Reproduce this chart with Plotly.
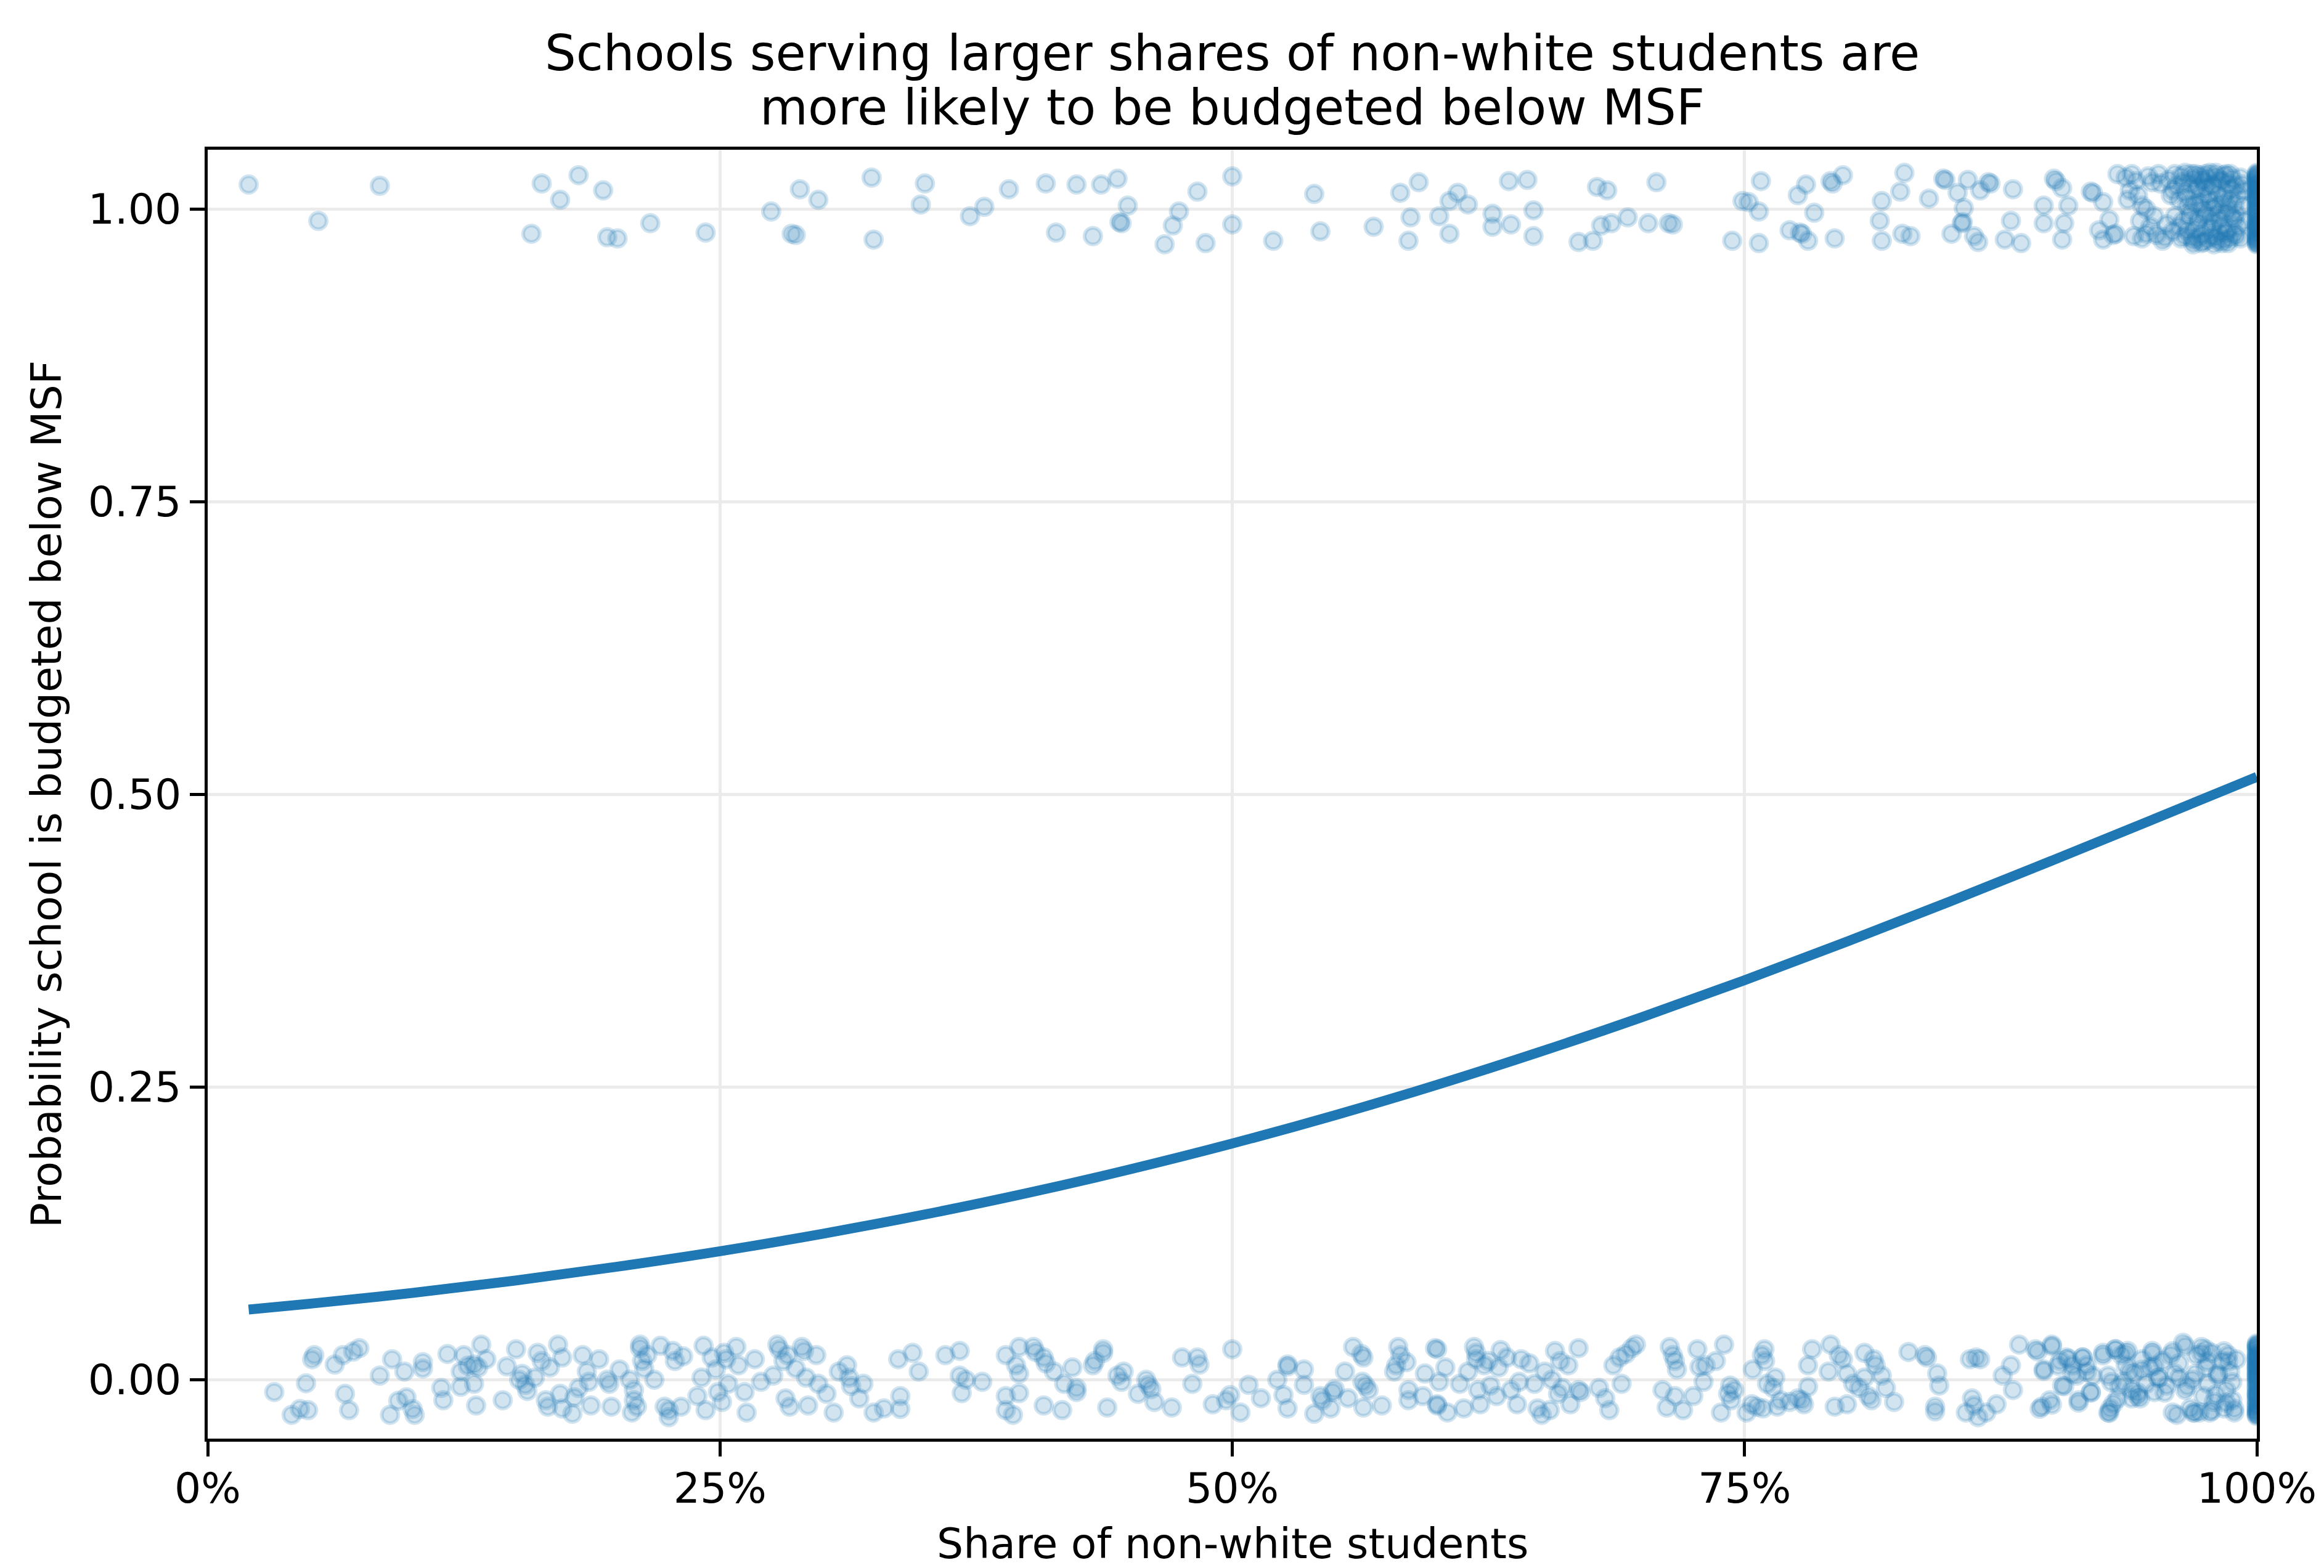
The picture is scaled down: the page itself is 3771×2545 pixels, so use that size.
import plotly.graph_objects as go

# Schools budgeted below MSF (outcome 1), jittered around 1: (share non-white %, jittered value)
high_points = [
    (2.0, 1.021), (5.4, 0.990), (8.4, 1.020), (16.3, 1.022), (15.8, 0.979), (18.1, 1.029),
    (17.2, 1.008), (19.3, 1.016), (19.5, 0.976), (20.0, 0.975), (21.6, 0.988), (24.3, 0.980),
    (27.5, 0.998), (28.9, 1.017), (29.8, 1.008), (28.5, 0.979), (28.7, 0.978), (32.4, 1.027),
    (32.5, 0.974), (35.0, 1.022), (34.8, 1.004), (37.2, 0.994), (37.9, 1.002),
    (39.1, 1.017), (40.9, 1.022), (41.4, 0.980), (42.4, 1.021), (43.2, 0.977), (43.6, 1.021),
    (44.4, 1.026), (44.9, 1.003), (44.6, 0.988), (44.5, 0.989), (47.4, 0.998), (47.1, 0.986),
    (46.7, 0.970), (48.3, 1.015), (48.7, 0.971), (50.0, 1.028), (50.0, 0.987), (52.0, 0.973),
    (54.0, 1.013), (54.3, 0.981), (56.9, 0.985), (58.2, 1.014), (59.1, 1.023), (58.7, 0.993),
    (58.6, 0.973), (60.1, 0.994), (60.6, 0.979), (60.6, 1.007), (61.0, 1.014), (61.5, 1.004),
    (62.7, 0.996), (62.7, 0.985), (63.6, 0.987), (63.5, 1.024), (64.4, 1.025), (64.7, 0.999),
    (64.7, 0.977), (66.9, 0.972), (67.6, 0.973), (68.0, 0.986), (68.5, 0.988), (67.8, 1.019),
    (68.3, 1.016), (69.3, 0.993), (70.3, 0.988), (70.7, 1.023), (71.3, 0.988), (71.5, 0.987),
    (74.4, 0.973), (74.9, 1.007), (75.2, 1.006), (75.7, 0.998), (75.8, 1.024), (75.7, 0.971),
    (77.2, 0.982), (77.6, 1.012), (78.0, 1.021), (78.4, 0.997), (77.7, 0.980), (78.1, 0.973),
    (77.8, 0.979), (79.2, 1.024), (79.3, 1.022), (79.8, 1.029), (79.4, 0.975), (81.7, 1.007),
    (82.6, 1.015), (82.8, 1.031), (81.6, 0.990), (81.7, 0.973), (82.7, 0.979), (83.1, 0.977),
    (84.0, 1.009), (84.7, 1.026), (84.8, 1.025), (85.4, 1.014), (85.7, 1.001), (85.6, 0.988),
    (85.65, 0.989), (85.9, 1.025), (85.1, 0.979), (86.2, 0.977), (86.4, 0.972), (86.5, 1.016),
    (86.9, 1.023), (87.0, 1.022), (88.1, 1.017), (88.0, 0.990), (87.7, 0.974), (88.5, 0.971),
    (89.6, 1.003), (89.6, 0.988), (90.1, 1.026), (90.2, 1.024), (90.5, 1.018), (90.8, 1.003),
    (90.6, 0.988), (90.5, 0.974), (91.9, 1.015), (92.0, 1.014), (92.5, 1.006), (92.8, 0.991),
    (92.3, 0.982), (93.1, 0.979), (93.0, 0.978), (92.5, 0.974), (93.2, 1.030),
    (93.6, 1.027), (93.9, 1.030), (94.1, 1.024), (93.7, 1.008), (93.8, 1.016), (94.2, 1.012),
    (94.4, 1.003), (94.0, 0.977), (94.4, 0.975), (94.6, 0.979), (94.7, 1.028), (94.9, 1.023),
    (94.6, 1.000), (95.0, 0.994), (95.2, 1.030), (95.4, 0.973), (95.6, 0.987), (95.8, 1.012),
    (95.9, 1.016), (96.0, 1.030), (96.2, 0.985), (96.4, 1.023), (96.5, 0.977), (96.6, 1.003),
    (96.7, 0.994), (96.8, 1.030), (96.9, 0.973), (97.0, 1.016), (97.1, 0.989), (97.2, 1.005),
    (97.3, 1.026), (97.4, 0.972), (97.5, 0.996), (97.6, 1.012), (97.7, 1.031), (97.8, 0.984),
    (97.9, 1.021), (98.0, 1.003), (98.1, 0.973), (98.2, 0.991), (98.3, 1.024), (98.4, 1.009),
    (98.5, 0.980), (98.6, 1.000), (98.7, 1.030), (98.8, 1.017), (98.9, 0.991), (99.0, 0.977),
    (99.1, 1.012), (99.3, 1.021), (94.3, 0.990), (94.8, 0.985), (95.1, 0.978), (95.3, 1.022),
    (95.5, 0.976), (95.7, 1.025), (95.9, 0.981), (96.0, 0.994), (96.1, 1.020), (96.2, 1.008),
    (96.3, 0.975), (96.3, 1.028), (96.4, 0.990), (96.5, 1.014), (96.6, 0.982), (96.7, 1.022),
    (96.7, 1.009), (96.8, 0.976), (96.8, 0.998), (96.9, 1.026), (97.0, 0.983), (97.0, 1.004),
    (97.1, 1.019), (97.1, 0.975), (97.2, 1.029), (97.2, 0.992), (97.3, 1.011), (97.3, 0.978),
    (97.4, 1.024), (97.4, 1.000), (97.5, 0.985), (97.5, 1.018), (97.6, 0.974), (97.6, 1.027),
    (97.7, 0.993), (97.7, 1.007), (97.8, 1.020), (97.8, 0.977), (97.9, 1.001), (97.9, 0.988),
    (98.0, 1.028), (98.0, 0.976), (98.1, 1.013), (98.1, 0.996), (98.2, 1.025), (98.2, 0.980),
    (98.3, 1.005), (98.3, 0.986), (98.4, 1.029), (98.4, 0.974), (98.5, 1.015), (98.5, 0.997),
    (98.6, 1.022), (98.6, 0.983), (98.7, 1.008), (98.7, 0.975), (98.8, 0.993), (98.8, 1.026),
    (98.9, 1.004), (98.9, 0.979), (99.0, 1.020), (99.0, 0.996), (99.1, 0.985), (99.2, 1.027),
    (99.2, 0.975), (99.3, 1.003), (99.4, 0.990), (99.4, 1.016), (97.0, 1.030), (97.5, 1.030),
    (98.0, 1.031), (96.5, 1.031), (98.5, 1.030), (96.9, 0.970), (97.3, 0.971), (97.9, 0.970),
    (98.3, 0.971), (98.6, 0.971),
]

# Schools at 100% non-white share budgeted below MSF (jittered values)
high_full_share = [
    0.971, 1.026, 0.984, 1.012, 0.993, 1.030, 0.977, 1.005, 1.019, 0.988,
    0.970, 1.023, 0.999, 1.014, 0.981, 1.008, 0.974, 1.028, 0.991, 1.002,
    1.017, 0.986, 0.979, 1.021, 0.996, 1.010, 0.973, 1.029, 0.983, 1.006,
    1.015, 0.990, 0.976, 1.025, 1.000, 1.011, 0.987, 0.972, 1.020, 0.994,
    1.003, 1.027, 0.980, 1.016, 0.985, 1.009, 0.975, 1.022, 0.997, 1.031,
]

# Schools not budgeted below MSF (outcome 0), jittered around 0
low_points = [
    (3.25, -0.0105), (4.1, -0.030), (4.5, -0.025), (4.9, -0.026), (4.8, -0.003), (5.1, 0.0175),
    (5.2, 0.021), (6.2, 0.013), (6.6, 0.021), (7.1, 0.024), (7.4, 0.027), (6.7, -0.012),
    (6.9, -0.026), (8.4, 0.0035), (9.0, 0.0175), (9.6, 0.007), (8.9, -0.030), (9.3, -0.018),
    (9.7, -0.015), (10.0, -0.025), (10.1, -0.030), (10.5, 0.015), (10.5, 0.0096), (11.4, -0.007),
    (11.5, -0.0175), (11.7, 0.022), (12.35, 0.007), (12.5, 0.021), (12.7, 0.012), (13.0, 0.013),
    (13.2, 0.0105), (13.35, 0.030), (12.35, -0.006), (13.1, -0.022), (13.0, -0.0035), (13.6, 0.0175),
    (14.4, -0.0175), (14.6, 0.0114), (15.05, 0.026), (15.35, 0.005), (15.2, 0.0), (15.5, -0.0044),
    (15.6, -0.0096), (16.1, 0.023), (15.97, 0.0018), (16.3, 0.016), (16.5, -0.0175), (16.6, -0.023),
    (16.7, 0.0105), (17.1, 0.030), (17.3, 0.019), (17.2, -0.012), (17.3, -0.0245), (17.8, -0.029),
    (17.9, -0.015), (18.1, -0.007), (18.3, 0.021), (18.5, 0.007), (18.6, -0.0018), (18.7, -0.022),
    (19.1, 0.0175), (19.5, 0.0), (19.6, -0.0035), (19.7, -0.023), (20.1, 0.0088), (20.6, 0.0),
    (20.7, -0.028), (20.8, -0.0088), (20.8, -0.0175), (20.95, -0.023), (21.1, 0.027), (21.1, 0.030),
    (21.2, 0.016), (21.3, 0.0096), (21.45, 0.021), (21.8, 0.0), (22.1, 0.029), (22.3, -0.023),
    (22.5, -0.026), (22.5, -0.032), (22.7, 0.0246), (22.8, 0.016), (23.1, -0.023), (23.2, 0.020),
    (23.9, -0.014), (24.1, 0.0018), (24.2, 0.029), (24.3, -0.026), (24.6, 0.019), (24.8, 0.0088),
    (24.9, -0.0105), (25.1, -0.019), (25.2, 0.023), (25.3, 0.0175), (25.4, -0.0035), (25.8, 0.028),
    (25.9, 0.0123), (26.3, -0.028), (26.2, -0.0105), (26.7, 0.0175), (27.0, -0.0018), (27.6, 0.0035),
    (27.8, 0.030), (27.9, 0.026), (28.1, 0.016), (28.3, 0.021), (28.2, -0.016), (28.4, -0.023),
    (28.7, 0.0096), (29.0, 0.028), (29.1, 0.0246), (29.2, 0.0018), (29.3, -0.022), (29.7, 0.021),
    (29.8, -0.0035), (30.2, -0.012), (30.55, -0.028), (30.8, 0.007), (31.2, 0.0123), (31.3, 0.0018),
    (31.4, -0.0053), (31.8, -0.016), (32.0, -0.0035), (32.5, -0.028), (33.0, -0.0245), (33.7, 0.0175),
    (33.8, -0.014), (33.8, -0.025), (34.4, 0.023), (34.7, 0.007), (36.0, 0.021), (36.7, 0.0246),
    (36.7, 0.0035), (36.8, -0.0114), (37.0, 0.0), (37.8, -0.0018),
    (38.95, 0.021), (39.6, 0.028), (39.45, 0.0123), (39.6, 0.0053), (38.95, -0.014), (39.6, -0.0114),
    (38.95, -0.026), (39.3, -0.030), (40.3, 0.028), (40.4, 0.0237), (40.8, 0.019), (40.9, 0.014),
    (41.3, 0.007), (40.8, -0.022), (41.7, -0.026), (41.8, -0.0035), (42.2, 0.0105), (42.4, -0.007),
    (42.4, -0.0105), (43.2, 0.0123), (43.3, 0.016), (43.7, 0.026), (43.7, 0.023), (43.9, -0.0237),
    (44.4, 0.0035), (44.6, -0.0018), (44.7, 0.007), (45.4, -0.012), (45.8, 0.0), (45.9, -0.0044),
    (46.05, -0.008), (46.2, -0.019), (47.05, -0.0237), (47.55, 0.019), (48.05, -0.0035), (48.3, 0.019),
    (48.4, 0.013), (49.05, -0.021), (49.7, -0.0175), (49.9, -0.013), (50.0, 0.026), (50.4, -0.028),
    (50.8, -0.0044), (51.4, -0.0158), (52.2, 0.0), (52.7, 0.013), (52.7, 0.0114), (52.5, -0.013),
    (52.7, -0.0245), (53.5, 0.0088), (53.5, -0.0044), (54.0, -0.029), (54.3, -0.014), (54.4, -0.0175),
    (54.8, -0.0245), (54.9, -0.0105), (55.0, -0.008), (55.5, 0.007), (55.65, -0.0158), (55.9, 0.028),
    (56.3, 0.022), (56.4, 0.019), (56.35, -0.0018), (56.5, -0.005), (56.4, -0.0237), (56.65, -0.0088),
    (57.3, -0.022), (57.9, 0.007), (58.0, 0.0123), (58.1, 0.028), (58.2, 0.021), (58.5, 0.015),
    (58.6, -0.0088), (58.6, -0.0175), (59.3, -0.014), (59.4, 0.0053), (59.9, 0.027), (60.0, 0.026),
    (60.0, -0.021), (60.0, -0.022), (60.1, -0.0018), (60.4, 0.0105), (60.5, -0.028), (61.1, -0.0035),
    (61.3, -0.0245), (61.5, 0.007), (61.8, 0.028), (61.9, 0.023), (61.9, 0.0175), (62.0, -0.0088),
    (62.1, -0.021), (62.3, 0.0123), (62.5, 0.016), (62.6, -0.005), (62.9, -0.014), (63.0, 0.0105),
    (63.1, 0.0254), (63.4, 0.019), (63.6, -0.0088), (63.9, -0.021), (64.0, -0.0018), (64.1, 0.0175),
    (64.5, 0.014), (64.75, -0.0035), (64.9, -0.0245), (65.1, -0.030), (65.25, 0.007), (65.5, -0.026),
    (65.6, 0.0), (65.75, 0.0246), (65.9, -0.012), (66.0, 0.016), (66.1, -0.007), (66.4, 0.0123),
    (66.5, -0.021), (66.9, 0.027), (66.9, -0.0088), (67.0, -0.0105), (67.9, -0.007), (68.2, -0.0158),
    (68.4, -0.026), (68.6, 0.0123), (68.9, 0.019), (69.0, -0.0035), (69.2, 0.022), (69.5, 0.027),
    (69.7, 0.030), (71.0, -0.0088), (71.2, -0.0237), (71.35, 0.028), (71.5, 0.021), (71.6, 0.016),
    (71.7, 0.0088), (72.0, -0.026), (72.5, -0.014), (72.7, 0.026), (73.0, -0.0018), (73.1, 0.0123),
    (74.0, 0.030), (73.85, -0.028), (74.2, -0.012), (74.35, -0.0175), (74.5, -0.0088), (75.1, -0.028),
    (75.35, -0.021), (75.97, 0.026), (75.85, 0.021), (76.0, 0.016), (76.1, -0.0035), (76.5, 0.0018),
    (74.3, -0.005), (75.4, 0.0088), (75.6, -0.023), (75.9, -0.0245), (76.4, -0.007), (72.8, 0.011),
    (71.6, -0.014), (73.6, 0.016),
    (76.75, -0.0175), (76.6, -0.023), (77.2, -0.019), (77.6, -0.016), (77.8, -0.0175), (77.9, -0.021),
    (78.1, -0.006), (78.1, 0.0123), (78.3, 0.026), (79.2, 0.030), (79.1, 0.007), (79.4, -0.023),
    (79.6, 0.021), (79.8, 0.0175), (80.0, -0.021), (80.0, 0.0053), (80.3, -0.0035), (80.6, -0.007),
    (80.85, 0.023), (80.85, 0.0018), (81.05, -0.014), (81.2, -0.0175), (81.3, 0.0175), (81.4, 0.0123),
    (81.7, 0.0035), (81.9, -0.007), (82.3, -0.019), (83.0, 0.0237), (83.8, 0.021), (83.9, 0.019),
    (84.4, 0.0053), (84.5, -0.005), (84.3, -0.023), (84.3, -0.027), (85.8, -0.028), (86.0, 0.0175),
    (86.3, 0.019), (86.5, 0.0175), (86.1, -0.016), (86.2, -0.022), (86.4, -0.032), (86.8, -0.028),
    (87.3, -0.021), (87.6, 0.0035), (88.0, 0.0123), (88.1, -0.0088), (88.4, 0.030),
    (89.2, 0.026), (89.6, 0.0088), (89.5, -0.023), (89.9, -0.0175), (90.0, 0.030), (90.4, 0.016),
    (90.5, -0.005), (90.7, 0.019), (91.0, 0.0123), (91.2, 0.0035), (91.3, -0.0175), (91.5, 0.019),
    (91.7, 0.0123), (91.9, -0.0105), (92.5, 0.023), (92.75, 0.0035), (92.85, -0.0245), (92.75, -0.028),
    (93.1, 0.026), (93.2, -0.016), (93.4, 0.021), (93.5, -0.0018), (93.6, 0.0123), (93.7, 0.0246),
    (93.9, -0.0088), (94.0, 0.0053), (94.2, -0.014), (94.4, 0.0175), (94.6, -0.0035), (94.8, 0.0105),
    (94.9, 0.0246), (95.0, -0.0105), (95.2, 0.0018), (95.4, 0.016), (95.6, -0.005), (95.8, 0.021),
    (95.9, -0.028), (96.0, 0.0053), (96.2, 0.014), (96.4, 0.0316), (96.5, -0.0088), (96.75, -0.0245),
    (96.85, 0.0), (96.96, -0.028), (97.06, 0.021), (97.3, 0.028), (97.4, -0.014), (97.5, 0.0105),
    (97.6, -0.0035), (97.7, -0.028), (97.8, 0.023), (97.9, -0.019), (98.1, 0.0035), (98.3, 0.016),
    (98.4, -0.0245), (98.5, -0.0088), (98.6, 0.021), (98.7, 0.007), (98.8, -0.0175), (98.9, -0.028),
    (89.3, 0.0243), (90.0, 0.0287), (89.6, 0.0076), (89.4, -0.0248), (90.0, -0.0213), (90.3, 0.012),
    (90.6, -0.0055), (90.8, 0.018), (91.0, 0.005), (91.3, -0.0196), (91.5, 0.019), (91.7, 0.0068),
    (91.9, -0.011), (92.0, 0.0032), (92.5, 0.0208), (92.9, -0.002), (92.8, -0.0283), (93.0, -0.0204),
    (93.1, 0.026), (93.3, -0.0055), (93.6, 0.0226), (93.8, 0.0068), (93.9, -0.016), (94.2, -0.011),
    (94.3, -0.016), (94.4, 0.0085), (94.9, 0.0226), (95.0, 0.012), (95.2, 0.0015), (95.5, -0.011),
    (95.9, 0.0243), (96.1, -0.030), (96.2, 0.0015), (96.5, 0.0287), (96.6, -0.0055), (96.9, -0.028),
    (97.0, 0.005), (97.2, -0.028), (97.3, 0.0226), (97.5, 0.026), (97.6, 0.0155), (97.8, -0.0265),
    (98.0, -0.0125), (98.1, 0.005), (98.4, 0.0243), (98.5, -0.0196), (98.6, 0.0155), (98.8, -0.002),
    (98.9, -0.0248), (99.0, 0.0173),
]

# Schools at 100% non-white share not budgeted below MSF (jittered values)
low_full_share = [
    -0.029, 0.024, -0.012, 0.008, 0.030, -0.021, 0.003, -0.006, 0.017, -0.026,
    0.011, -0.002, 0.027, -0.017, 0.005, -0.030, 0.020, -0.009, 0.014, -0.023,
    0.001, 0.029, -0.014, 0.009, -0.027, 0.022, -0.004, 0.016, -0.019, 0.006,
    0.031, -0.011, 0.012, -0.025, 0.019, -0.001, 0.026, -0.016, 0.004, -0.031,
    0.021, -0.007, 0.013, -0.022, 0.028, -0.013, 0.002, 0.018, -0.028, 0.010,
]

# Fitted probability curve
curve_share = [2, 5, 10, 15, 20, 25, 30, 35, 40, 45, 50, 55, 60, 65, 70, 75, 80, 85, 90, 95, 100]
curve_prob = [0.0600, 0.0650, 0.0742, 0.0847, 0.0966, 0.1098, 0.1247, 0.1412, 0.1595, 0.1797,
              0.2018, 0.2259, 0.2520, 0.2800, 0.3098, 0.3413, 0.3743, 0.4084, 0.4435, 0.4791, 0.5150]

x_ticks = [0, 25, 50, 75, 100]
x_tick_labels = ["0%", "25%", "50%", "75%", "100%"]
y_ticks = [0, 0.25, 0.5, 0.75, 1.0]
y_tick_labels = ["0.00", "0.25", "0.50", "0.75", "1.00"]

BLUE = "#1f77b4"
DOT = "rgba(31,119,180,0.2)"
FONT = "DejaVu Sans"

high_x = [p[0] for p in high_points] + [100.0] * len(high_full_share)
high_y = [p[1] for p in high_points] + high_full_share
low_x = [p[0] for p in low_points] + [100.0] * len(low_full_share)
low_y = [p[1] for p in low_points] + low_full_share

marker_style = dict(symbol="circle", size=27, color=DOT, line=dict(width=6, color=DOT))

fig = go.Figure()
for xs, ys in ((low_x, low_y), (high_x, high_y)):
    fig.add_trace(go.Scatter(x=xs, y=ys, mode="markers", marker=marker_style,
                             cliponaxis=True, showlegend=False, hoverinfo="skip"))

fig.add_trace(go.Scatter(x=curve_share, y=curve_prob, mode="lines",
                         line=dict(color=BLUE, width=16, shape="spline"),
                         showlegend=False, hoverinfo="skip"))

axis_common = dict(
    ticks="outside", ticklen=24, tickwidth=5.4, tickcolor="black",
    showline=True, linecolor="black", linewidth=5.4, mirror=True,
    showgrid=True, gridcolor="#ebebeb", gridwidth=5, zeroline=False,
    tickfont=dict(family=FONT, size=68, color="black"),
)

fig.update_layout(
    width=3771, height=2545,
    margin=dict(l=337, r=106, t=243, b=210),
    plot_bgcolor="white", paper_bgcolor="white",
    font=dict(family=FONT, color="black"),
    xaxis=dict(range=[0, 100], tickvals=x_ticks, ticktext=x_tick_labels,
               ticklabelstandoff=-7, **axis_common),
    yaxis=dict(range=[-0.0503, 1.0508], tickvals=y_ticks, ticktext=y_tick_labels, **axis_common),
    annotations=[
        dict(text="Schools serving larger shares of non-white students are", xref="paper", yref="paper",
             x=0.5, y=1, yshift=157, xanchor="center", yanchor="middle", showarrow=False,
             font=dict(family=FONT, size=80, color="black")),
        dict(text="more likely to be budgeted below MSF", xref="paper", yref="paper",
             x=0.5, y=1, yshift=69, xanchor="center", yanchor="middle", showarrow=False,
             font=dict(family=FONT, size=80, color="black")),
        dict(text="Share of non-white students", xref="paper", yref="paper",
             x=0.5, y=0, yshift=-170, xanchor="center", yanchor="middle", showarrow=False,
             font=dict(family=FONT, size=68, color="black")),
        dict(text="Probability school is budgeted below MSF", xref="paper", yref="paper",
             x=0, y=0.5, xshift=-262, xanchor="center", yanchor="middle", textangle=-90,
             showarrow=False, font=dict(family=FONT, size=68, color="black")),
    ],
)

fig.write_html("out.html")
